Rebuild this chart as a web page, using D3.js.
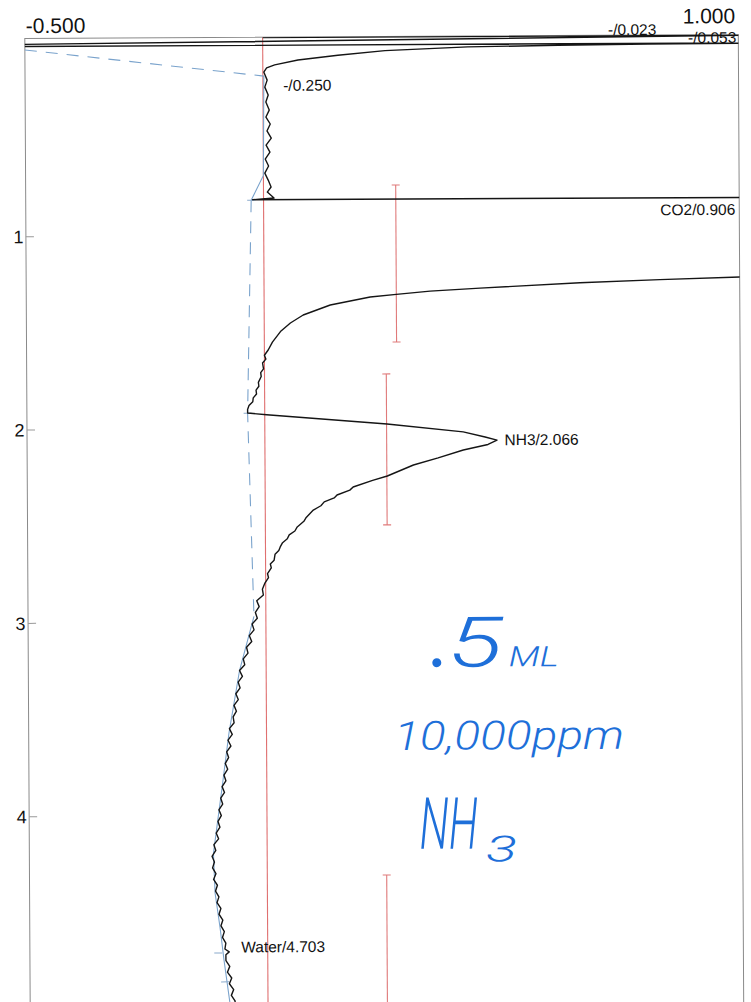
<!DOCTYPE html>
<html>
<head>
<meta charset="utf-8">
<script src="https://cdn.jsdelivr.net/npm/d3@7"></script>
<style>
  html, body { margin: 0; padding: 0; background: #fff; }
  svg { display: block; }
</style>
</head>
<body>
<div id="chart"></div>
<script>
// Axis ranges and tick labels
const signalRange = [-0.5, 1.0];
const signalLabels = ["-0.500", "1.000"];
const timeRange = [-0.025, 5.0];
const timeTicks = [1, 2, 3, 4];

// Detector trace: [retention time (min), signal]
const trace = [
  [-0.024, 0.000], [-0.022, 1.080], [0.006, -0.560], [0.016, -0.560], [0.018, 1.080],
  [0.020, 1.000], [0.022, 0.810], [0.025, 0.621], [0.031, 0.431], [0.048, 0.257],
  [0.070, 0.158], [0.094, 0.074], [0.118, 0.025], [0.134, 0.008], [0.155, 0.002],
  [0.197, 0.009], [0.233, 0.004], [0.274, 0.011], [0.310, 0.006], [0.352, 0.013],
  [0.388, 0.006], [0.424, 0.015], [0.460, 0.008], [0.497, 0.017], [0.533, 0.006],
  [0.569, 0.014], [0.605, 0.004], [0.641, 0.011], [0.678, 0.003], [0.714, 0.010],
  [0.750, 0.016], [0.776, 0.008], [0.807, 0.022], [0.815, -0.023], [0.818, 1.080],
  [0.906, 1.150], [1.226, 1.080], [1.229, 1.000], [1.240, 0.832], [1.254, 0.664],
  [1.279, 0.454], [1.293, 0.349], [1.309, 0.278], [1.322, 0.223], [1.362, 0.139],
  [1.413, 0.082], [1.454, 0.055], [1.498, 0.034], [1.552, 0.017], [1.593, 0.008],
  [1.620, 0.000], [1.640, 0.003], [1.660, -0.004], [1.690, -0.002], [1.710, -0.008],
  [1.730, -0.007], [1.760, -0.013], [1.780, -0.012], [1.800, -0.018], [1.820, -0.017],
  [1.840, -0.024], [1.860, -0.025], [1.880, -0.033], [1.900, -0.036], [1.918, -0.036],
  [1.928, 0.004], [1.979, 0.257], [2.022, 0.417], [2.049, 0.463], [2.066, 0.488],
  [2.088, 0.469], [2.116, 0.417], [2.156, 0.364], [2.192, 0.312], [2.248, 0.257],
  [2.270, 0.226], [2.304, 0.185], [2.320, 0.178], [2.345, 0.151], [2.360, 0.145],
  [2.380, 0.124], [2.400, 0.117], [2.422, 0.101], [2.440, 0.094], [2.460, 0.086],
  [2.480, 0.081], [2.509, 0.067], [2.530, 0.062], [2.550, 0.050], [2.570, 0.046],
  [2.590, 0.036], [2.612, 0.031], [2.630, 0.028], [2.650, 0.020], [2.680, 0.018],
  [2.700, 0.010], [2.720, 0.012], [2.750, 0.004], [2.770, 0.006], [2.800, -0.002],
  [2.830, -0.007], [2.860, -0.005], [2.890, -0.019], [2.920, -0.014], [2.950, -0.022],
  [2.980, -0.018], [3.010, -0.029], [3.040, -0.025], [3.070, -0.035], [3.100, -0.030],
  [3.130, -0.041], [3.160, -0.038], [3.190, -0.048], [3.220, -0.045], [3.250, -0.056],
  [3.280, -0.050], [3.310, -0.059], [3.340, -0.055], [3.370, -0.064], [3.400, -0.059],
  [3.430, -0.068], [3.460, -0.063], [3.490, -0.070], [3.520, -0.068], [3.550, -0.078],
  [3.580, -0.072], [3.610, -0.081], [3.640, -0.075], [3.670, -0.084], [3.700, -0.080],
  [3.730, -0.087], [3.760, -0.082], [3.790, -0.090], [3.820, -0.086], [3.850, -0.094],
  [3.880, -0.089], [3.910, -0.097], [3.940, -0.093], [3.970, -0.101], [4.000, -0.096],
  [4.030, -0.103], [4.060, -0.099], [4.090, -0.107], [4.120, -0.102], [4.150, -0.112],
  [4.180, -0.108], [4.210, -0.116], [4.240, -0.111], [4.270, -0.115], [4.300, -0.108],
  [4.330, -0.113], [4.360, -0.105], [4.390, -0.109], [4.420, -0.102], [4.450, -0.106],
  [4.480, -0.098], [4.510, -0.102], [4.540, -0.094], [4.570, -0.098], [4.600, -0.091],
  [4.630, -0.095], [4.660, -0.088], [4.690, -0.090], [4.705, -0.081], [4.720, -0.088],
  [4.750, -0.088], [4.780, -0.080], [4.810, -0.085], [4.840, -0.076], [4.870, -0.081],
  [4.900, -0.072], [4.930, -0.077], [4.960, -0.069], [4.990, -0.073]
];

// Identified peaks
const peakNames = ["-", "-", "-", "CO2", "NH3", "Water"];
const peakTimes = [0.023, 0.053, 0.250, 0.906, 2.066, 4.703];

// Integration windows (red I-bars): signal level, start, end
const windowLevels = [0.278, 0.256, 0.251];
const windowStarts = [0.743, 1.720, 4.312];
const windowEnds = [1.555, 2.501, 5.200];

// Drawn baseline: dashed and solid pieces
const baselineDashed = [
  [[0.034, -0.500], [0.176, 0.002]],
  [[0.818, -0.026], [1.919, -0.036], [2.970, -0.025]]
];
const baselineSolid = [
  [[0.176, 0.002], [0.690, 0.000], [0.818, -0.026]],
  [[2.970, -0.025], [3.250, -0.056], [3.574, -0.079], [3.853, -0.094], [4.195, -0.113],
   [4.400, -0.110], [4.578, -0.100], [4.748, -0.092], [4.970, -0.080]]
];
const baselineMarks = [[0.818, -0.026], [1.919, -0.036], [4.710, -0.104], [4.860, -0.090]];

// Handwritten note
const noteLines = [".5ML", "10,000ppm", "NH3"];

const width = 751, height = 1002;
const svg = d3.select("#chart").append("svg")
  .attr("width", width).attr("height", height);

// scanned page is slightly tilted
const g = svg.append("g").attr("transform", "rotate(-0.32 384 520)");

const x = d3.scaleLinear().domain(signalRange).range([27.5, 741]);
const y = d3.scaleLinear().domain([0, 5]).range([41.4, 1008.05]);

const plotTop = y(timeRange[0]), plotBottom = y(timeRange[1]);
const plotLeft = x(signalRange[0]), plotRight = x(signalRange[1]);

svg.append("defs").append("clipPath").attr("id", "plot-clip")
  .append("rect")
  .attr("x", plotLeft).attr("y", plotTop)
  .attr("width", plotRight - plotLeft).attr("height", plotBottom - plotTop);

// Frame
g.append("rect")
  .attr("x", plotLeft).attr("y", plotTop)
  .attr("width", plotRight - plotLeft).attr("height", plotBottom - plotTop)
  .attr("fill", "none").attr("stroke", "#8a8a8a").attr("stroke-width", 1);

// Time ticks and labels on the left
g.selectAll("line.tick").data(timeTicks).enter().append("line")
  .attr("class", "tick")
  .attr("x1", plotLeft).attr("x2", plotLeft + 8)
  .attr("y1", (d) => y(d)).attr("y2", (d) => y(d))
  .attr("stroke", "#999").attr("stroke-width", 1);

g.selectAll("text.tlabel").data(timeTicks).enter().append("text")
  .attr("class", "tlabel")
  .attr("x", plotLeft - 2.5)
  .attr("y", (d) => y(d) + 6.5)
  .attr("text-anchor", "end")
  .attr("font-family", "Liberation Sans, Arial, sans-serif")
  .attr("font-size", 18)
  .attr("fill", "#111")
  .text((d) => d);

// Signal range labels
g.append("text")
  .attr("x", plotLeft + 1).attr("y", plotTop - 5.5)
  .attr("font-family", "Liberation Sans, Arial, sans-serif")
  .attr("font-size", 21).attr("fill", "#111")
  .text(signalLabels[0]);
g.append("text")
  .attr("x", plotRight - 3).attr("y", plotTop - 11.5)
  .attr("text-anchor", "end")
  .attr("font-family", "Liberation Sans, Arial, sans-serif")
  .attr("font-size", 21).attr("fill", "#111")
  .text(signalLabels[1]);

const plot = g.append("g").attr("clip-path", "url(#plot-clip)");

// Red zero line
plot.append("line")
  .attr("x1", x(0)).attr("x2", x(0))
  .attr("y1", plotTop).attr("y2", plotBottom)
  .attr("stroke", "#e07070").attr("stroke-width", 1.1);

// Integration window bars
windowLevels.forEach((lv, i) => {
  const bx = x(lv);
  const y0 = y(windowStarts[i]), y1 = y(windowEnds[i]);
  plot.append("line").attr("x1", bx).attr("x2", bx).attr("y1", y0).attr("y2", y1)
    .attr("stroke", "#e07a7a").attr("stroke-width", 1.1);
  [y0, y1].forEach((cy) => {
    plot.append("line").attr("x1", bx - 4).attr("x2", bx + 4).attr("y1", cy).attr("y2", cy)
      .attr("stroke", "#e07a7a").attr("stroke-width", 1.1);
  });
});

const line = d3.line().x((d) => x(d[1])).y((d) => y(d[0]));

// Baseline
baselineDashed.forEach((seg) => {
  plot.append("path").datum(seg).attr("d", line)
    .attr("fill", "none").attr("stroke", "#7aa3cc").attr("stroke-width", 1.1)
    .attr("stroke-dasharray", "12,9");
});
baselineSolid.forEach((seg) => {
  plot.append("path").datum(seg).attr("d", line)
    .attr("fill", "none").attr("stroke", "#7aa3cc").attr("stroke-width", 1.1);
});
plot.selectAll("line.bmark").data(baselineMarks).enter().append("line")
  .attr("class", "bmark")
  .attr("x1", (d) => x(d[1]) - 4).attr("x2", (d) => x(d[1]) + 4)
  .attr("y1", (d) => y(d[0])).attr("y2", (d) => y(d[0]))
  .attr("stroke", "#8aaacc").attr("stroke-width", 1);

// Trace
plot.append("path").datum(trace).attr("d", line)
  .attr("fill", "none").attr("stroke", "#151515")
  .attr("stroke-width", 1.4).attr("stroke-linejoin", "round");

// Peak labels
function apexAt(rt) {
  const near = trace.filter((d) => Math.abs(d[0] - rt) < 0.03);
  return d3.max(near, (d) => d[1]);
}
const labelFont = "Liberation Sans, Arial, sans-serif";
peakNames.forEach((name, i) => {
  const rt = peakTimes[i];
  const txt = name + "/" + rt.toFixed(3);
  const apex = apexAt(rt);
  let lx, ly, anchor = "start";
  if (i === 0) { lx = plotRight - 82; ly = plotTop - 0.2; anchor = "end"; }
  else if (i === 1) { lx = plotRight - 2; ly = plotTop + 8.2; anchor = "end"; }
  else if (apex >= signalRange[1]) { lx = plotRight - 4; ly = y(rt) + 0.2; anchor = "end"; }
  else { lx = x(Math.max(apex, 0)) + (apex > 0.1 ? 7.5 : 15); ly = y(rt) + (apex > 0.1 ? 5 : 0.5); }
  if (name === "Water") { lx = x(apex) + 12; ly = y(rt) + 1; }
  g.append("text")
    .attr("x", lx).attr("y", ly)
    .attr("text-anchor", anchor)
    .attr("font-family", labelFont)
    .attr("font-size", 15.5)
    .attr("fill", "#111")
    .text(txt);
});

// Handwritten note in blue ink
const ink = "#1e6fd9";
const hand = g.append("g")
  .attr("fill", ink)
  .attr("font-family", "Roboto, 'DejaVu Sans', sans-serif")
  .attr("font-weight", 300)
  .attr("font-style", "italic");

// squeeze a word to a given width by scaling, so its box stays true
function inkWord(str, px, py, size, w) {
  const t = hand.append("text").attr("font-size", size).text(str);
  const len = t.node().getComputedTextLength();
  t.attr("transform", `translate(${px},${py}) scale(${w / len},1)`);
  return t;
}

hand.append("circle").attr("cx", 436).attr("cy", 663).attr("r", 4.5);
inkWord(noteLines[0].slice(1, 2), 447, 667, 70, 55);
inkWord(noteLines[0].slice(2), 508, 667, 28, 50);
inkWord(noteLines[1], 393, 750, 40, 230);
inkWord(noteLines[2].slice(0, 2), 418, 849, 72, 58);
inkWord(noteLines[2].slice(2), 484, 862, 36, 31);
</script>
</body>
</html>
